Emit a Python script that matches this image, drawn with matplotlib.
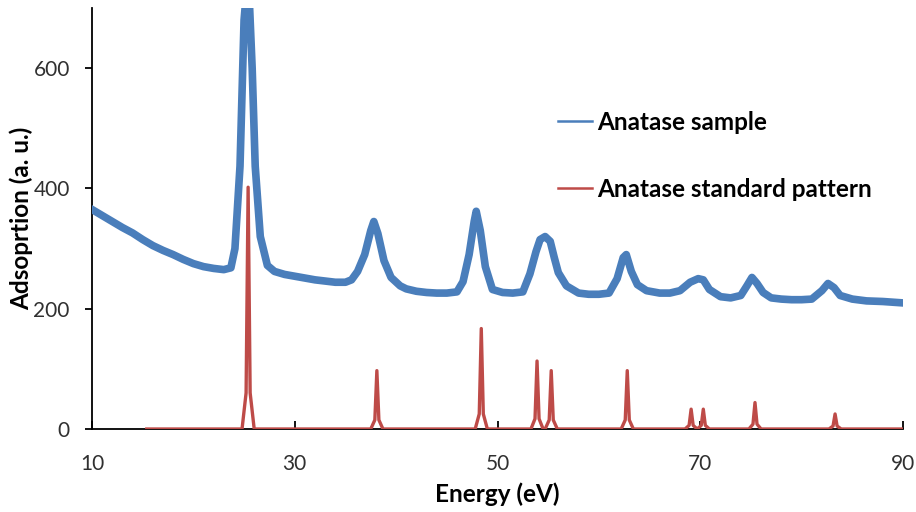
import matplotlib
matplotlib.use("Agg")
import matplotlib.pyplot as plt

# ---- data ----
sample_x = [10, 11, 12, 13, 14, 15, 16, 17, 18, 19, 20, 21, 22, 23, 23.7, 24.1, 24.6, 25.0, 25.2,
            25.5, 25.8, 26.1, 26.6, 27.3, 28, 29, 30, 31, 32, 33, 34, 35, 35.6, 36.2, 36.9, 37.5,
            37.8, 38.2, 38.8, 39.5, 40.4, 41, 42, 43, 44, 45, 46, 46.6, 47.2, 47.7, 47.9, 48.3,
            48.8, 49.5, 50.5, 51.5, 52.5, 53.2, 53.8, 54.2, 54.7, 55.2, 55.6, 56, 56.8, 58, 59,
            60, 61, 61.8, 62.4, 62.7, 63.2, 63.8, 64.7, 66, 67, 68, 69, 69.8, 70.3, 70.9, 72, 73,
            74, 74.6, 75.1, 75.6, 76.2, 77, 78, 79, 80, 81, 82, 82.6, 83.2, 83.8, 85, 86.4, 88, 89.7]
sample_y = [365, 355, 345, 335, 326, 315, 305, 297, 290, 282, 275, 270, 267, 265, 268, 300, 437, 680, 720,
            720, 600, 437, 320, 272, 262, 257, 254, 251, 248, 246, 244, 244, 248, 262, 290, 330,
            345, 325, 280, 252, 238, 233, 229, 227, 226, 226, 228, 245, 290, 345, 362, 330,
            270, 232, 227, 226, 228, 258, 295, 315, 320, 312, 285, 260, 238, 226, 224,
            224, 226, 250, 285, 290, 262, 240, 230, 226, 226, 230, 244, 250, 248, 232, 220, 218,
            222, 238, 252, 242, 227, 218, 216, 215, 215, 216, 230, 242, 235, 222, 216, 213, 212, 210]

standard_x = [15.4,
              24.8, 25.2, 25.4, 25.6, 26.0,
              37.5, 37.9, 38.1, 38.3, 38.7,
              47.8, 48.2, 48.4, 48.6, 49.0,
              53.3, 53.7, 53.9, 54.1, 54.5,
              54.7, 55.1, 55.3, 55.5, 55.9,
              62.2, 62.6, 62.8, 63.0, 63.4,
              68.5, 68.9, 69.1, 69.3, 69.7,
              69.7, 70.1, 70.3, 70.5, 70.9,
              74.8, 75.2, 75.4, 75.6, 76.0,
              82.7, 83.1, 83.3, 83.5, 83.9,
              90]
standard_y = [0,
              0, 60, 402, 60, 0,
              0, 15, 97, 15, 0,
              0, 25, 167, 25, 0,
              0, 17, 113, 17, 0,
              0, 15, 97, 15, 0,
              0, 15, 97, 15, 0,
              0, 6, 33, 6, 0,
              0, 6, 33, 6, 0,
              0, 8, 44, 8, 0,
              0, 5, 25, 5, 0,
              0]

x_ticks = [10, 30, 50, 70, 90]
y_ticks = [0, 200, 400, 600]
series_labels = ["Anatase sample", "Anatase standard pattern"]

# ---- styling ----
plt.rcParams['font.family'] = ['Lato', 'DejaVu Sans']
blue = "#4a7ebb"
red = "#be4b48"

fig = plt.figure(figsize=(9.16, 5.12), dpi=100)
ax = fig.add_axes([92 / 916, 1 - 429 / 512, (903 - 92) / 916, (429 - 8) / 512])

ax.plot(sample_x, sample_y, color=blue, lw=5.5, solid_joinstyle='round', label=series_labels[0], zorder=3)
ax.plot(standard_x, standard_y, color=red, lw=2.4, label=series_labels[1], zorder=4)

ax.set_xlim(10, 90)
ax.set_ylim(0, 700)
ax.set_xticks(x_ticks)
ax.set_yticks(y_ticks)
ax.spines['top'].set_visible(False)
ax.spines['right'].set_visible(False)
for s in ('left', 'bottom'):
    ax.spines[s].set_linewidth(1.3)
    ax.spines[s].set_color('black')
ax.tick_params(axis='x', direction='in', length=6, width=1.3, pad=18, labelsize=15, colors='black')
ax.tick_params(axis='y', direction='out', length=5, width=1.3, pad=11, labelsize=15, colors='black')
for lab in ax.get_xticklabels() + ax.get_yticklabels():
    lab.set_color('#303030')

ax.set_xlabel("Energy (eV)", fontsize=17.5, fontweight='bold', labelpad=6)
ax.set_ylabel("Adsoprtion (a. u.)", fontsize=17.5, fontweight='bold', labelpad=0)

leg_handles = [plt.Line2D([], [], color=blue, lw=1.8), plt.Line2D([], [], color=red, lw=1.8)]
leg = ax.legend(leg_handles, series_labels, loc='upper left', bbox_to_anchor=(558 / 916, 1 - 111 / 512),
                bbox_transform=fig.transFigure, frameon=False, prop={'weight': 'bold', 'size': 17.5},
                handlelength=1.4, handletextpad=0.2, labelspacing=1.8, borderpad=0, borderaxespad=0)

fig.savefig("out.png", dpi=100)
